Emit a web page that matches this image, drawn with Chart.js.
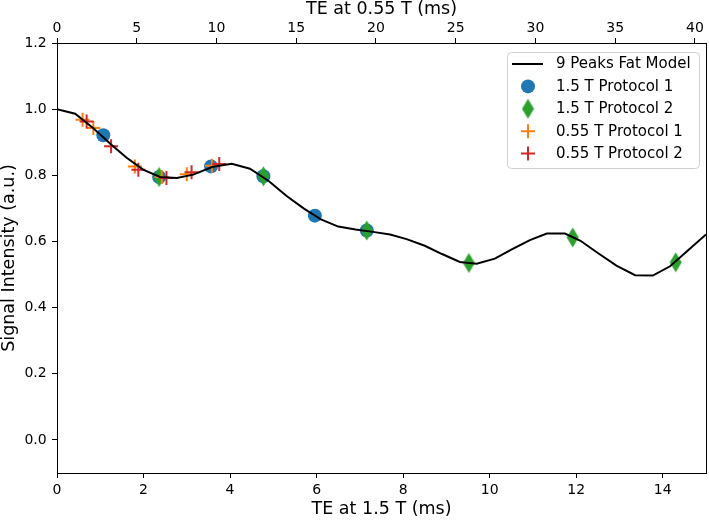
<!DOCTYPE html>
<html>
<head>
<meta charset="utf-8">
<script src="https://cdn.jsdelivr.net/npm/chart.js@4.4.1/dist/chart.umd.min.js"></script>
<style>
  body { margin: 0; background: #fff; }
  canvas { display: block; }
</style>
</head>
<body>
<canvas id="myChart" width="709" height="520"></canvas>
<script>
// model curve, TE in ms at 1.5 T
const modelTE = [0, 0.42, 0.84, 1.25, 1.61, 1.99, 2.38, 2.77, 3.15, 3.6, 4.04, 4.46, 4.9, 5.3, 5.7, 6.1, 6.5, 6.9, 7.3, 7.7, 8.08, 8.5, 8.9, 9.31, 9.7, 10.12, 10.5, 10.93, 11.32, 11.74, 12.1, 12.5, 12.93, 13.36, 13.77, 14.17, 14.6, 15.0];
const modelSignal = [1.000, 0.986, 0.942, 0.893, 0.853, 0.817, 0.795, 0.792, 0.802, 0.826, 0.835, 0.820, 0.782, 0.738, 0.700, 0.667, 0.645, 0.636, 0.629, 0.621, 0.607, 0.587, 0.562, 0.538, 0.533, 0.548, 0.575, 0.604, 0.624, 0.624, 0.602, 0.565, 0.527, 0.498, 0.497, 0.525, 0.575, 0.621];

// measured echoes
const p1_15TE = [1.07, 2.36, 3.56, 4.77, 5.96, 7.16];
const p1_15Signal = [0.921, 0.795, 0.827, 0.797, 0.678, 0.633];
const p2_15TE = [2.36, 4.77, 7.16, 9.52, 11.92, 14.3];
const p2_15Signal = [0.795, 0.797, 0.633, 0.535, 0.612, 0.537];
const p1_055TE = [0.59, 0.84, 1.80, 2.42, 3.00, 3.58];
const p1_055Signal = [0.968, 0.943, 0.827, 0.795, 0.803, 0.829];
const p2_055TE = [0.685, 1.25, 1.88, 2.53, 3.11, 3.75];
const p2_055Signal = [0.963, 0.888, 0.817, 0.792, 0.809, 0.834];

const bottomTicks = [0, 2, 4, 6, 8, 10, 12, 14];
const topTicks = [0, 5, 10, 15, 20, 25, 30, 35, 40];
const yTicks = [0, 0.2, 0.4, 0.6, 0.8, 1.0, 1.2];
const teRatio = 2.713; // TE at 0.55 T per TE at 1.5 T

function points(xs, ys) {
	return xs.map((x, i) => ({ x: x, y: ys[i] }));
}

// thin diamond marker like matplotlib "d"
const diamond = document.createElement("canvas");
diamond.width = 13;
diamond.height = 21;
let dctx = diamond.getContext("2d");
dctx.fillStyle = "#2ca02c";
dctx.beginPath();
dctx.moveTo(6.5, 0.5);
dctx.lineTo(12.5, 10.5);
dctx.lineTo(6.5, 20.5);
dctx.lineTo(0.5, 10.5);
dctx.closePath();
dctx.fill();

const tickFont = { family: "DejaVu Sans", size: 14 };
const titleFont = { family: "DejaVu Sans", size: 17.5 };
const tickGrid = { display: true, drawOnChartArea: false, drawTicks: true, tickLength: 5, color: "#000" };
const frame = { display: true, color: "#000", width: 1 };

// fixed box sizes so the plot area sits where it does in the figure
function fixBox(size) {
	return s => {
		if (s.isHorizontal()) s.height = size; else s.width = size;
		s.paddingLeft = 0;
		s.paddingRight = 0;
		s.paddingTop = 0;
		s.paddingBottom = 0;
	};
}

// legend in a rounded box at the top right of the plot
const boxLegend = {
	id: "boxLegend",
	afterDraw(chart) {
		const ctx = chart.ctx;
		const area = chart.chartArea;
		const w = 192, h = 116;
		const left = area.right - 7 - w;
		const top = area.top + 9;
		ctx.save();
		ctx.beginPath();
		ctx.roundRect(left + 0.5, top + 0.5, w, h, 4);
		ctx.fillStyle = "rgba(255,255,255,0.8)";
		ctx.fill();
		ctx.strokeStyle = "#d0d0d0";
		ctx.lineWidth = 1;
		ctx.stroke();
		ctx.font = "15px 'DejaVu Sans'";
		ctx.textBaseline = "middle";
		chart.data.datasets.forEach((ds, i) => {
			const y = top + 12 + i * 22.4;
			const cx = left + 21;
			if (ds.showLine) {
				ctx.strokeStyle = ds.borderColor;
				ctx.lineWidth = ds.borderWidth;
				ctx.beginPath();
				ctx.moveTo(left + 5, y);
				ctx.lineTo(left + 36, y);
				ctx.stroke();
			} else {
				ctx.fillStyle = ds.backgroundColor;
				ctx.strokeStyle = ds.borderColor;
				ctx.lineWidth = ds.borderWidth;
				Chart.helpers.drawPoint(ctx, {
					pointStyle: ds.pointStyle,
					rotation: 0,
					radius: ds.pointRadius,
					borderWidth: ds.borderWidth
				}, cx, y);
			}
			ctx.fillStyle = "#000";
			ctx.fillText(ds.label, left + 49, y + 0.5);
		});
		ctx.restore();
	}
};

var ctx = document.getElementById("myChart");
var chart = new Chart(ctx, {
	type: "scatter",
	data: {
		datasets: [
			{
				label: "9 Peaks Fat Model",
				data: points(modelTE, modelSignal),
				showLine: true,
				borderColor: "#000",
				borderWidth: 2,
				pointRadius: 0,
				tension: 0,
				order: 0
			},
			{
				label: "1.5 T Protocol 1",
				data: points(p1_15TE, p1_15Signal),
				pointStyle: "circle",
				pointRadius: 7,
				backgroundColor: "#1f77b4",
				borderColor: "#1f77b4",
				borderWidth: 0,
				order: 4
			},
			{
				label: "1.5 T Protocol 2",
				data: points(p2_15TE, p2_15Signal),
				pointStyle: diamond,
				pointRadius: 10,
				backgroundColor: "#2ca02c",
				borderColor: "#2ca02c",
				borderWidth: 0,
				order: 3
			},
			{
				label: "0.55 T Protocol 1",
				data: points(p1_055TE, p1_055Signal),
				pointStyle: "cross",
				pointRadius: 7,
				backgroundColor: "#ff7f0e",
				borderColor: "#ff7f0e",
				borderWidth: 2,
				order: 2
			},
			{
				label: "0.55 T Protocol 2",
				data: points(p2_055TE, p2_055Signal),
				pointStyle: "cross",
				pointRadius: 7,
				backgroundColor: "#d62728",
				borderColor: "#d62728",
				borderWidth: 2,
				order: 1
			}
		]
	},
	options: {
		responsive: false,
		animation: false,
		devicePixelRatio: 1,
		layout: { padding: 0, autoPadding: false },
		plugins: {
			legend: { display: false },
			tooltip: { enabled: false }
		},
		scales: {
			x: {
				type: "linear",
				position: "bottom",
				min: 0,
				max: 15,
				afterBuildTicks: s => { s.ticks = bottomTicks.map(v => ({ value: v })); },
				afterFit: fixBox(47),
				ticks: { font: tickFont, color: "#000", padding: 3.8, callback: v => String(v) },
				grid: tickGrid,
				border: frame,
				title: { display: true, text: "TE at 1.5 T (ms)", font: titleFont, color: "#000", padding: { top: 0, bottom: 0 } }
			},
			x2: {
				type: "linear",
				position: "top",
				min: 0,
				max: 15 * teRatio,
				afterBuildTicks: s => { s.ticks = topTicks.map(v => ({ value: v })); },
				afterFit: fixBox(43),
				ticks: { font: tickFont, color: "#000", padding: 1.5, callback: v => String(v) },
				grid: tickGrid,
				border: frame,
				title: { display: true, text: "TE at 0.55 T (ms)", font: titleFont, color: "#000", padding: { top: -1.5, bottom: 0 } }
			},
			y: {
				type: "linear",
				position: "left",
				min: -0.1,
				max: 1.2,
				afterBuildTicks: s => { s.ticks = yTicks.map(v => ({ value: v })); },
				afterFit: fixBox(57),
				ticks: { font: tickFont, color: "#000", padding: 5.3, callback: v => v.toFixed(1) },
				grid: tickGrid,
				border: frame,
				title: { display: true, text: "Signal Intensity (a.u.)", font: titleFont, color: "#000", padding: { top: -1, bottom: 0 } }
			},
			y2: {
				type: "linear",
				position: "right",
				min: -0.1,
				max: 1.2,
				afterFit: fixBox(3),
				ticks: { display: false },
				grid: { display: false },
				border: frame
			}
		}
	},
	plugins: [boxLegend]
});
</script>
</body>
</html>
